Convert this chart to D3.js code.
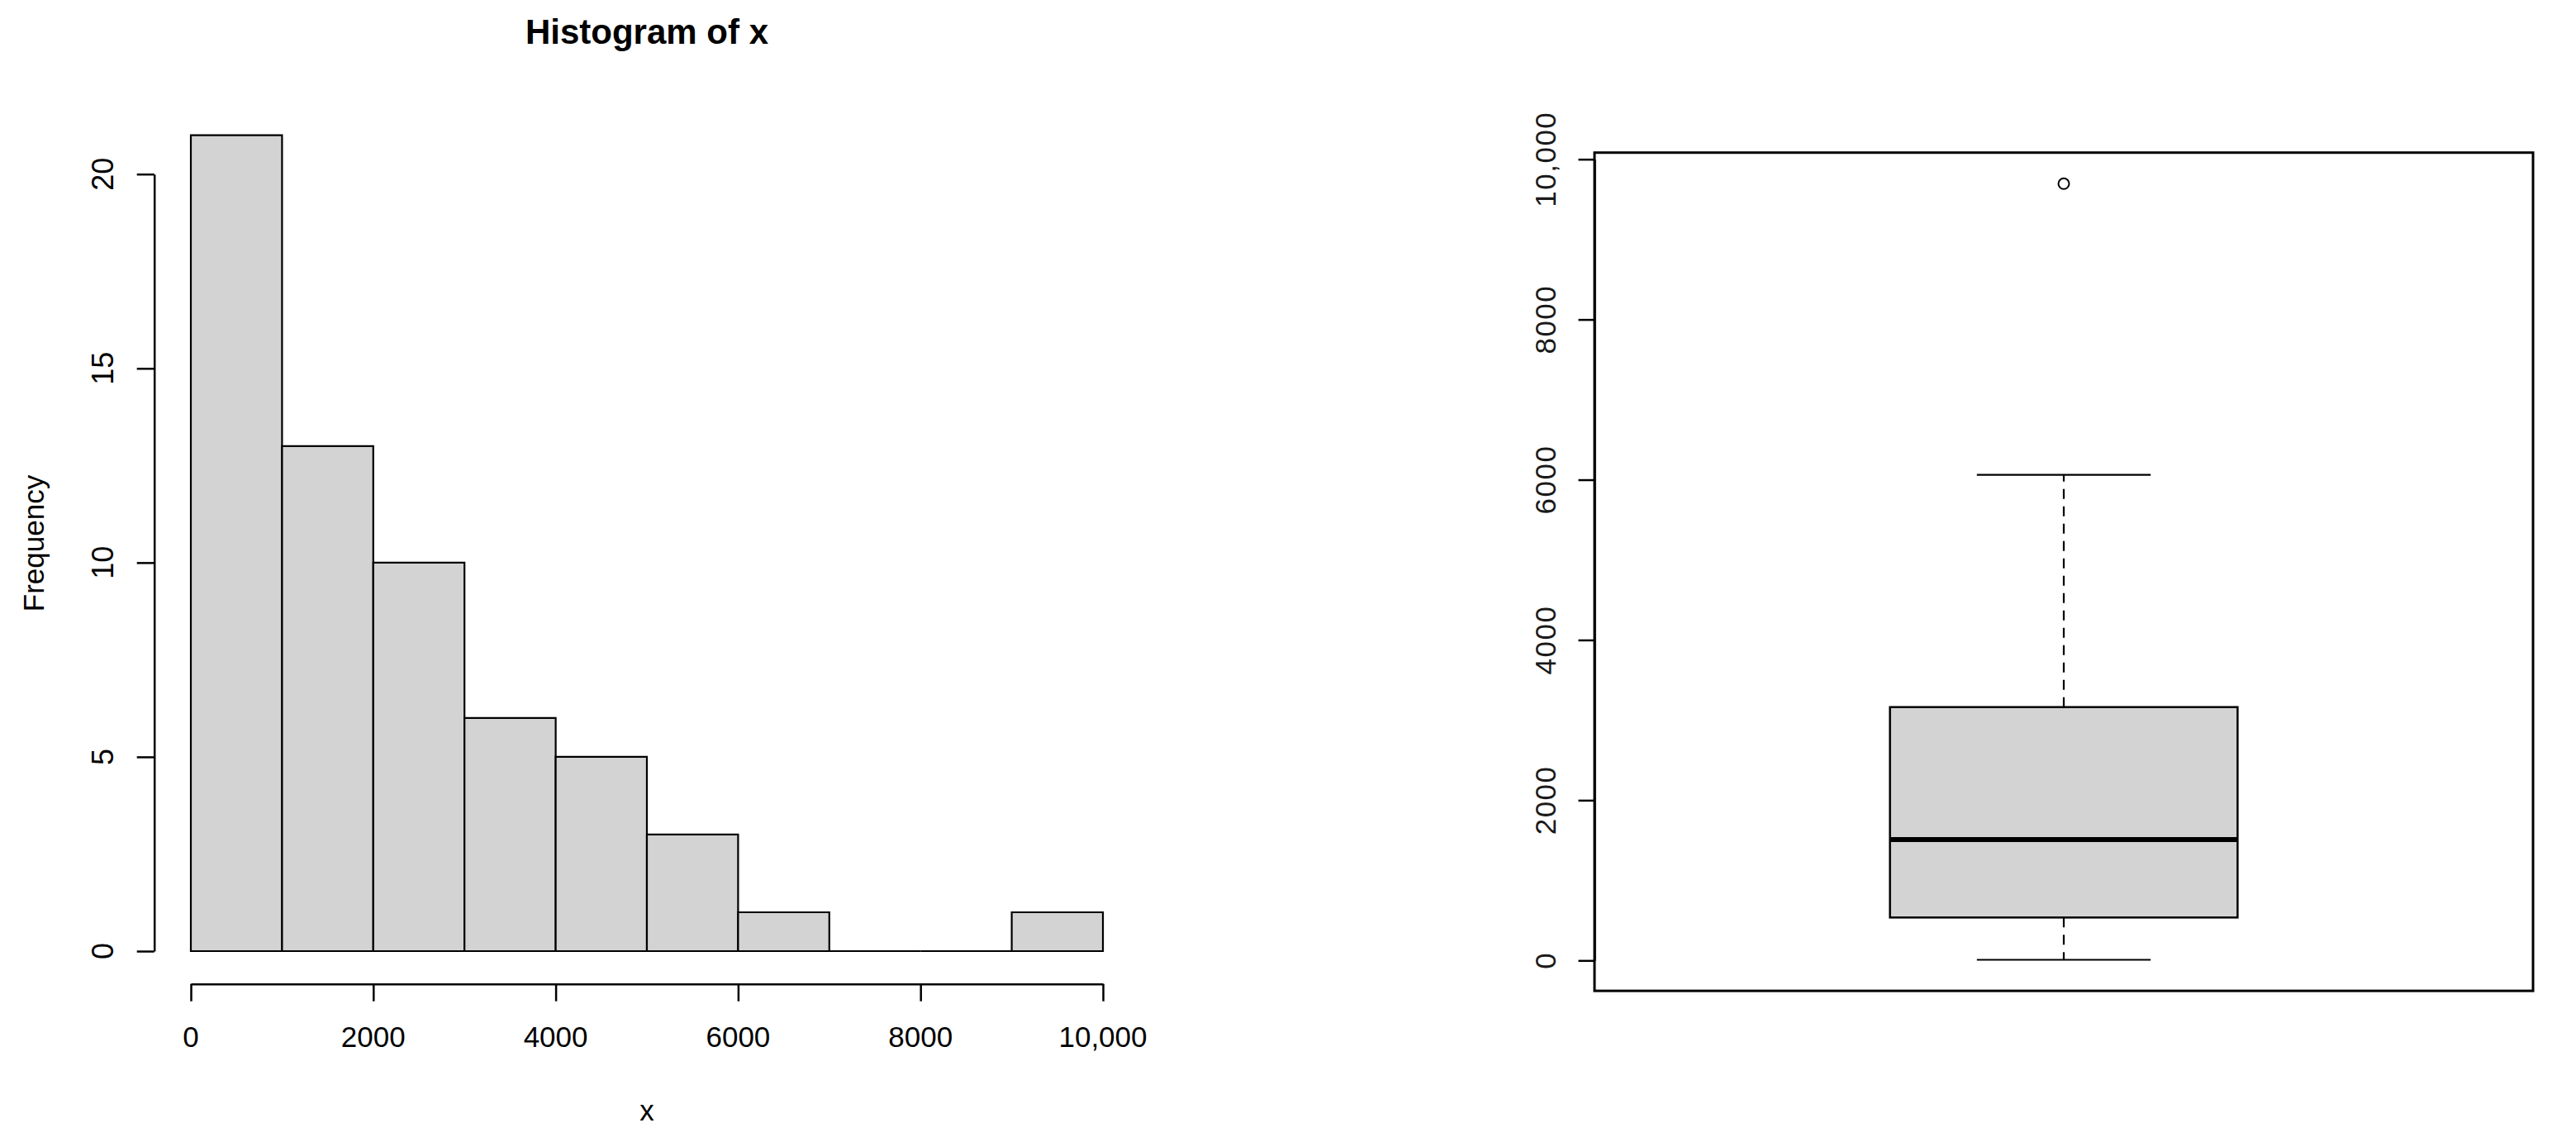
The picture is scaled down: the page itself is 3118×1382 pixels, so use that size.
<!DOCTYPE html>
<html>
<head>
<meta charset="utf-8">
<script src="https://cdn.jsdelivr.net/npm/d3@7"></script>
<style>
  body { margin: 0; background: #fff; }
  svg { display: block; }
</style>
</head>
<body>
<div id="chart"></div>
<script>
// Histogram data (bin edges and counts)
const binEdges = [0, 1000, 2000, 3000, 4000, 5000, 6000, 7000, 8000, 9000, 10000];
const binCounts = [21, 13, 10, 6, 5, 3, 1, 0, 0, 1];
const histXTicks = [0, 2000, 4000, 6000, 8000, 10000];
const histXTickLabels = ["0", "2000", "4000", "6000", "8000", "10,000"];
const histYTicks = [0, 5, 10, 15, 20];

// Boxplot summary
const boxStats = { min: 8, q1: 536, median: 1509, q3: 3162, max: 6060 };
const boxOutliers = [9695];
const boxYTicks = [0, 2000, 4000, 6000, 8000, 10000];
const boxYTickLabels = ["0", "2000", "4000", "6000", "8000", "10,000"];

const W = 3118, H = 1382;
const font = "'Liberation Sans', Arial, sans-serif";

const svg = d3.select("#chart").append("svg")
    .attr("width", W)
    .attr("height", H);

svg.append("rect").attr("width", W).attr("height", H).attr("fill", "#fff");

// ---------- Histogram ----------
const hx = d3.scaleLinear().domain([0, 10000]).range([231, 1335]);
const hy = d3.scaleLinear().domain([0, 20]).range([1151, 210.7]);

const hist = svg.append("g");

const bins = binCounts.map((c, i) => ({ x0: binEdges[i], x1: binEdges[i + 1], count: c }));

// paths so the empty bins still show as a line on the baseline
hist.append("g")
  .selectAll("path")
  .data(bins)
  .join("path")
    .attr("d", d => `M${hx(d.x0)},${hy(0)}H${hx(d.x1)}V${hy(d.count)}H${hx(d.x0)}Z`)
    .attr("fill", "#d3d3d3")
    .attr("stroke", "#000")
    .attr("stroke-width", 2.2);

// x axis
const xAxisG = hist.append("g")
    .attr("transform", "translate(0,1190.7)")
    .call(d3.axisBottom(hx).tickValues(histXTicks).tickSize(21).tickSizeOuter(0).tickFormat(""));
xAxisG.selectAll("path, line").attr("stroke", "#000").attr("stroke-width", 2.5);

hist.append("g")
  .selectAll("text")
  .data(histXTicks)
  .join("text")
    .attr("x", d => hx(d))
    .attr("y", 1267)
    .attr("text-anchor", "middle")
    .style("font-family", font)
    .style("font-size", "35px")
    .text((d, i) => histXTickLabels[i]);

// y axis
const yAxisG = hist.append("g")
    .attr("transform", "translate(186.7,0)")
    .call(d3.axisLeft(hy).tickValues(histYTicks).tickSize(21).tickSizeOuter(0).tickFormat(""));
yAxisG.selectAll("path, line").attr("stroke", "#000").attr("stroke-width", 2.5);

hist.append("g")
  .selectAll("text")
  .data(histYTicks)
  .join("text")
    .attr("transform", d => `translate(137,${hy(d)}) rotate(-90)`)
    .attr("text-anchor", "middle")
    .style("font-family", font)
    .style("font-size", "36px")
    .text(d => d);

// titles
hist.append("text")
    .attr("x", 783)
    .attr("y", 53)
    .attr("text-anchor", "middle")
    .style("font-family", font)
    .style("font-weight", "bold")
    .style("font-size", "42px")
    .text("Histogram of x");

hist.append("text")
    .attr("x", 783)
    .attr("y", 1356)
    .attr("text-anchor", "middle")
    .style("font-family", font)
    .style("font-size", "35px")
    .text("x");

hist.append("text")
    .attr("transform", "translate(53,657.5) rotate(-90)")
    .attr("text-anchor", "middle")
    .style("font-family", font)
    .style("font-size", "35px")
    .text("Frequency");

// ---------- Boxplot ----------
const by = d3.scaleLinear().domain([0, 10000]).range([1162.3, 192.7]);
const bx = d3.scaleLinear().domain([0.46, 1.54]).range([1930, 3066]);

const box = svg.append("g");

const lo = d3.min([boxStats.min, ...boxOutliers]);
const hi = d3.max([boxStats.max, ...boxOutliers]);
const pad = (hi - lo) * 0.04;

// frame
box.append("rect")
    .attr("x", bx(0.46))
    .attr("y", by(hi + pad))
    .attr("width", bx(1.54) - bx(0.46))
    .attr("height", by(lo - pad) - by(hi + pad))
    .attr("fill", "none")
    .attr("stroke", "#000")
    .attr("stroke-width", 3);

// whiskers (dashed)
box.append("g")
  .selectAll("line")
  .data([[boxStats.q3, boxStats.max], [boxStats.q1, boxStats.min]])
  .join("line")
    .attr("x1", bx(1)).attr("x2", bx(1))
    .attr("y1", d => by(d[0])).attr("y2", d => by(d[1]))
    .attr("stroke", "#000")
    .attr("stroke-width", 2.2)
    .attr("stroke-dasharray", "12,9");

// staples
box.append("g")
  .selectAll("line")
  .data([boxStats.max, boxStats.min])
  .join("line")
    .attr("x1", bx(0.9)).attr("x2", bx(1.1))
    .attr("y1", d => by(d)).attr("y2", d => by(d))
    .attr("stroke", "#000")
    .attr("stroke-width", 2.2);

// box
box.append("rect")
    .attr("x", bx(0.8))
    .attr("y", by(boxStats.q3))
    .attr("width", bx(1.2) - bx(0.8))
    .attr("height", by(boxStats.q1) - by(boxStats.q3))
    .attr("fill", "#d3d3d3")
    .attr("stroke", "#000")
    .attr("stroke-width", 2.5);

// median
box.append("line")
    .attr("x1", bx(0.8)).attr("x2", bx(1.2))
    .attr("y1", by(boxStats.median)).attr("y2", by(boxStats.median))
    .attr("stroke", "#000")
    .attr("stroke-width", 6);

// outliers
box.append("g")
  .selectAll("circle")
  .data(boxOutliers)
  .join("circle")
    .attr("cx", bx(1))
    .attr("cy", d => by(d))
    .attr("r", 6.5)
    .attr("fill", "none")
    .attr("stroke", "#000")
    .attr("stroke-width", 2);

// y axis
const byAxisG = box.append("g")
    .attr("transform", `translate(${bx(0.46)},0)`)
    .call(d3.axisLeft(by).tickValues(boxYTicks).tickSize(19.5).tickSizeOuter(0).tickFormat(""));
byAxisG.selectAll("path, line").attr("stroke", "#000").attr("stroke-width", 2.5);

box.append("g")
  .selectAll("text")
  .data(boxYTicks)
  .join("text")
    .attr("transform", d => `translate(1883,${by(d)}) rotate(-90)`)
    .attr("text-anchor", "middle")
    .style("font-family", font)
    .style("font-size", "35px")
    .style("letter-spacing", "1.5px")
    .style("fill", "#1a1a1a")
    .text((d, i) => boxYTickLabels[i]);
</script>
</body>
</html>
